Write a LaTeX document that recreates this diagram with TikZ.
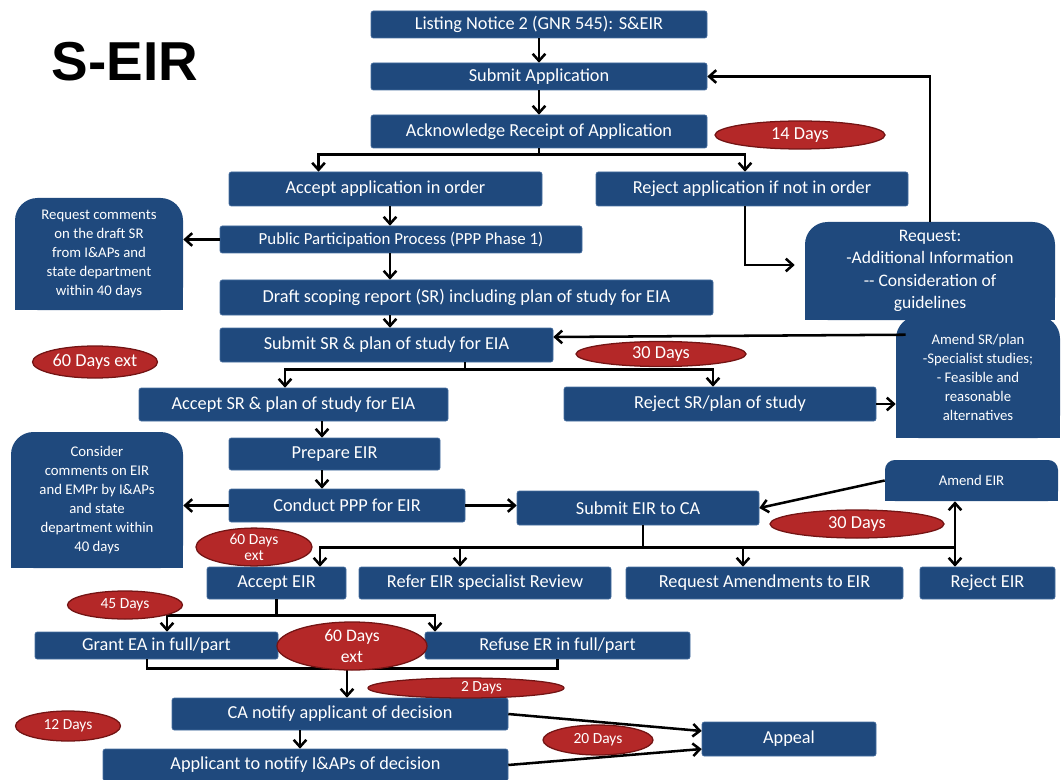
\documentclass[tikz,border=0pt]{standalone}
\usepackage{fontspec}
\setmainfont{Carlito}
\newfontfamily\titlefont{Liberation Sans}
\usetikzlibrary{calc,shapes.geometric,backgrounds,arrows.meta}
\definecolor{boxblue}{RGB}{31,73,125}
\definecolor{boxedge}{RGB}{70,110,160}
\definecolor{dayred}{RGB}{180,40,40}
\definecolor{dayedge}{RGB}{115,20,20}
\tikzset{
  stepbox/.style={fill=boxblue, draw=boxedge, text=white, rounded corners=1.5pt,
    align=center, inner sep=1pt, font=\fontsize{13}{15}\selectfont},
  wd/.style={minimum width=#1*0.025cm},
  ht/.style={minimum height=#1*0.025cm},
  sidebox/.style={fill=boxblue, text=white, rounded corners=16pt, align=center,
    inner sep=1pt, font=\fontsize{10.5}{13.5}\selectfont},
  days/.style={ellipse, fill=dayred, draw=dayedge, line width=0.9pt, text=white,
    inner sep=0pt, align=center, font=\fontsize{13}{14}\selectfont},
  small/.style={font=\fontsize{11}{11}\selectfont},
  link/.style={line width=1.8pt},
  arr/.style={link, -{Straight Barb[length=5pt,width=9pt]}},
}
\begin{document}
\begin{tikzpicture}[x=0.025cm, y=-0.025cm]
  \useasboundingbox (0,0) rectangle (1062,780);
  \node[font=\titlefont\bfseries\fontsize{39}{39}\selectfont] (title) at (125,62) {S-EIR};

  % main steps
  \node[stepbox, wd=336, ht=27] (listing) at (539,24.5) {Listing Notice 2 (GNR 545): S\&EIR};
  \node[stepbox, wd=336, ht=27] (submit) at (539,76.5) {Submit Application};
  \node[stepbox, wd=336, ht=33] (ack) at (539,131.5) {Acknowledge Receipt of Application};
  \node[stepbox, wd=313, ht=34] (accapp) at (385.5,189) {Accept application in order};
  \node[stepbox, wd=312, ht=34] (rejapp) at (752,189) {Reject application if not in order};
  \node[stepbox, wd=362, ht=27, font=\fontsize{12}{14}\selectfont] (ppp) at (401,239.5) {Public Participation Process (PPP Phase 1)};
  \node[stepbox, wd=493, ht=35] (draft) at (466.5,297.5) {Draft scoping report (SR) including plan of study for EIA};
  \node[stepbox, wd=333, ht=34] (submitsr) at (386.5,345) {Submit SR \& plan of study for EIA};
  \node[stepbox, wd=309, ht=33] (acceptsr) at (293.5,404.5) {Accept SR \& plan of study for EIA};
  \node[stepbox, wd=312, ht=34] (rejectsr) at (720,404) {Reject SR/plan of study};
  \node[stepbox, wd=211, ht=32] (prepare) at (334.5,454) {Prepare EIR};
  \node[stepbox, wd=236, ht=33] (conduct) at (347,505.5) {Conduct PPP for EIR};
  \node[stepbox, wd=242, ht=34] (submiteir) at (638,508) {Submit EIR to CA};
  \node[stepbox, wd=139, ht=32] (accepteir) at (276.5,583) {Accept EIR};
  \node[stepbox, wd=252, ht=32] (refer) at (485,583) {Refer EIR specialist Review};
  \node[stepbox, wd=277, ht=32] (reqamend) at (764.5,583) {Request Amendments to EIR};
  \node[stepbox, wd=135, ht=32] (rejecteir) at (987.5,583) {Reject EIR};
  \node[stepbox, wd=243, ht=27] (grant) at (156.5,645.5) {Grant EA in full/part};
  \node[stepbox, wd=265, ht=27] (refuse) at (557.5,645.5) {Refuse ER in full/part};
  \node[stepbox, wd=336, ht=32] (canotify) at (340,714) {CA notify applicant of decision};
  \node[stepbox, wd=405, ht=32] (applicant) at (305.5,765) {Applicant to notify I\&APs of decision};
  \node[stepbox, wd=174, ht=34] (appeal) at (789,739) {Appeal};

  % side boxes
  \node[sidebox, wd=250, ht=98, font=\fontsize{12.5}{16}\selectfont] (reqbox) at (930,271)
    {Request:\\-Additional Information\\-{}- Consideration of\\guidelines};
  \node[sidebox, wd=168, ht=112] (cmtsr) at (99,254)
    {Request comments\\on the draft SR\\from I\&APs and\\state department\\within 40 days};
  \node[sidebox, wd=164, ht=122] (amendsr) at (978,377)
    {Amend SR/plan\\-Specialist studies;\\- Feasible and\\reasonable\\alternatives};
  \node[sidebox, wd=172, ht=136] (cmteir) at (97,500)
    {Consider\\comments on EIR\\and EMPr by I\&APs\\and state\\department within\\40 days};
  \node[sidebox, wd=173, ht=41, rounded corners=7pt, font=\fontsize{10.5}{12}\selectfont] (amendeir) at (971.5,480.5) {Amend EIR};
  \begin{scope}[on background layer]
    \foreach \n in {reqbox,cmtsr,amendsr,cmteir,amendeir}
      \fill[boxblue] (\n.south west) rectangle (\n.east);
  \end{scope}

  % connectors
  \coordinate (s1) at (390,0);
  \coordinate (s2) at (322,0);
  \draw[arr] (listing) -- (submit);
  \draw[arr] (submit) -- (ack);
  \draw[link] (ack.south) -- ++(0,6) coordinate (f1);
  \draw[arr] (f1) -| ($(accapp.north)+(-67,0)$);
  \draw[arr] (f1) -| ($(rejapp.north)+(-7,0)$);
  \draw[arr] (accapp.south -| s1) -- (ppp.north -| s1);
  \draw[arr] (ppp.south -| s1) -- (draft.north -| s1);
  \draw[arr] (draft.south -| s1) -- (submitsr.north -| s1);
  \draw[arr] (ppp.west) -- (ppp.west -| cmtsr.east);
  \draw[arr] ($(rejapp.south)+(-7,0)$) |- ($(reqbox.west)+(-10,-6)$);
  \draw[arr] (reqbox.north) |- (submit.east);
  \draw[arr] ($(amendsr.north west)+(10,19)$) -- ($(submitsr.east)+(0,-8)$);
  \draw[link] ($(submitsr.south)+(78.5,0)$) -- ++(0,7) coordinate (f2);
  \draw[arr] (f2) -| ($(acceptsr.north)+(-8.5,0)$);
  \draw[arr] (f2) -| ($(rejectsr.north)+(-7,0)$);
  \draw[arr] (rejectsr.east) -- (rejectsr.east -| amendsr.west);
  \draw[arr] (acceptsr.south -| s2) -- (prepare.north -| s2);
  \draw[arr] (prepare.south -| s2) -- (conduct.north -| s2);
  \draw[arr] (conduct.west) -- (conduct.west -| cmteir.east);
  \draw[arr] (conduct.east) -- (conduct.east -| submiteir.west);
  \draw[link] ($(submiteir.south)+(5,0)$) -- ++(0,22) coordinate (f3);
  \draw[arr] (f3) -| ($(accepteir.north)+(43.5,0)$);
  \draw[arr] (f3) -| ($(refer.north)+(-25,0)$);
  \draw[arr] (f3) -| ($(reqamend.north)+(-21.5,0)$);
  \draw[arr] (f3) -| ($(rejecteir.north)+(-32.5,0)$);
  \draw[arr] (f3) -| ($(amendeir.south)+(-16.5,0)$);
  \draw[arr] (amendeir.west) -- (submiteir.east);
  \draw[link] (accepteir.south) -- ++(0,16) coordinate (f4);
  \draw[arr] (f4) -| ($(grant.north)+(10.5,0)$);
  \draw[arr] (f4) -| ($(refuse.north)+(-122.5,0)$);
  \coordinate (j1) at ($(grant.south)+(-9.5,9)$);
  \coordinate (c2) at ($(canotify.north)+(7,0)$);
  \draw[link] ($(grant.south)+(-9.5,0)$) -- (j1) -| (refuse.south);
  \draw[arr] (c2 |- j1) -- (c2);
  \draw[arr] ($(canotify.south)+(-40,0)$) -- ($(applicant.north)+(-5.5,0)$);
  \draw[arr] (canotify.east) -- ($(appeal.west)+(0,-8)$);
  \draw[arr] (applicant.east) -- ($(appeal.west)+(0,10)$);

  % time frames
  \node[days, wd=170, ht=28] (d14) at (800,135) {14 Days};
  \node[days, wd=125, ht=32] (d60a) at (95,362) {60 Days ext};
  \node[days, wd=170, ht=25] (d30a) at (661,354) {30 Days};
  \node[days, wd=174, ht=28] (d30b) at (857,524) {30 Days};
  \node[days, small, wd=116, ht=33, font=\fontsize{11}{11.5}\selectfont] (d60b) at (254,547) {60 Days\\ext};
  \node[days, small, wd=115, ht=28] (d45) at (125,605) {45 Days};
  \node[days, wd=150, ht=48, font=\fontsize{12.5}{15}\selectfont] (d60c) at (352,646) {60 Days\\ext};
  \node[days, small, wd=196, ht=20] (d2) at (466,688) {\hspace*{22pt}2 Days};
  \node[days, small, wd=105, ht=30] (d12) at (68,726) {12 Days};
  \node[days, small, wd=110, ht=30] (d20) at (598,740) {20 Days};
\end{tikzpicture}
\end{document}
